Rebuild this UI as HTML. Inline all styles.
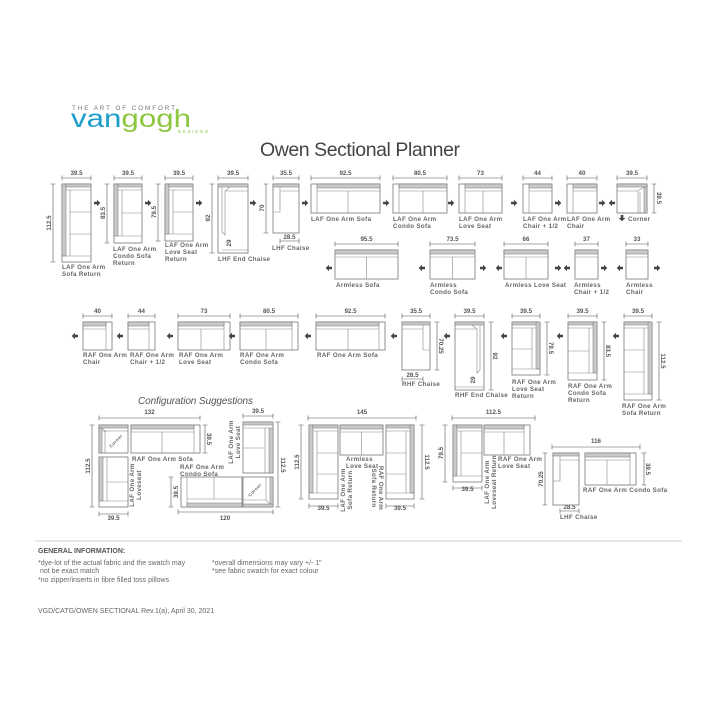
<!DOCTYPE html>
<html><head><meta charset="utf-8"><style>
html,body{margin:0;padding:0;background:#fff;}
svg{display:block;}
.o{fill:#fff;stroke:#777;stroke-width:.8}
.b{fill:#c9c9c9;stroke:#777;stroke-width:.5}
.l{stroke:#888;stroke-width:.6;fill:none}
.d{stroke:#555;stroke-width:.6;fill:none}
.t{font-family:"Liberation Sans",sans-serif;font-weight:bold;font-size:6.2px;fill:#666;letter-spacing:.35px}
.r{font-family:"Liberation Sans",sans-serif;font-weight:bold;font-size:6.2px;fill:#666;letter-spacing:.35px;text-anchor:middle}
.n{font-family:"Liberation Sans",sans-serif;font-weight:bold;font-size:6.2px;fill:#555;text-anchor:middle}
.f{font-family:"Liberation Sans",sans-serif;font-size:7px;fill:#666}
</style></head><body>
<svg width="720" height="720" viewBox="0 0 720 720" xmlns="http://www.w3.org/2000/svg">
<defs>
<path id="ar" d="M-3,-1.3h3v-2l3.3,3.3l-3.3,3.3v-2h-3z" fill="#444"/>
<path id="al" d="M3,-1.3h-3v-2l-3.3,3.3l3.3,3.3v-2h3z" fill="#444"/>
</defs>
<!-- Logo -->
<text x="72" y="110" textLength="103" style="font-family:'Liberation Sans',sans-serif;font-size:6.3px;fill:#777">THE ART OF COMFORT</text>
<text x="71" y="127" textLength="120" lengthAdjust="spacingAndGlyphs" style="font-family:'Liberation Sans',sans-serif;font-size:25px"><tspan fill="#1c9cc8">van</tspan><tspan fill="#8dc63f">gogh</tspan></text>
<text x="178" y="133" textLength="30" style="font-family:'Liberation Sans',sans-serif;font-size:4.5px;fill:#8dc63f">DESIGNS</text>
<text x="260" y="156" textLength="200" style="font-family:'Liberation Sans',sans-serif;font-size:19.5px;fill:#444">Owen Sectional Planner</text>

<!-- ROW 1 -->
<path class="d" d="M62,178h29M62,175.5v5M91,175.5v5 M114,178h28M114,175.5v5M142,175.5v5 M165,178h28M165,175.5v5M193,175.5v5 M218,178h30M218,175.5v5M248,175.5v5 M273,178h26M273,175.5v5M299,175.5v5 M311,178h69M311,175.5v5M380,175.5v5 M393,178h54M393,175.5v5M447,175.5v5 M459,178h43M459,175.5v5M502,175.5v5 M523,178h29M523,175.5v5M552,175.5v5 M567,178h30M567,175.5v5M597,175.5v5 M617,178h30M617,175.5v5M647,175.5v5"/>
<text class="n" x="76.5" y="175">39.5</text><text class="n" x="128" y="175">39.5</text><text class="n" x="179" y="175">39.5</text><text class="n" x="233" y="175">39.5</text><text class="n" x="286" y="175">35.5</text><text class="n" x="345.5" y="175">92.5</text><text class="n" x="420" y="175">80.5</text><text class="n" x="480.5" y="175">73</text><text class="n" x="537.5" y="175">44</text><text class="n" x="582" y="175">40</text><text class="n" x="632" y="175">39.5</text>
<path class="d" d="M53,184v78M50.5,184h5M50.5,262h5 M107,184v59M104.5,184h5M104.5,243h5 M158,184v57M155.5,184h5M155.5,241h5 M212,184v69M209.5,184h5M209.5,253h5 M266,184v49M263.5,184h5M263.5,233h5 M654,184v29M651.5,184h5M651.5,213h5"/>
<text class="n" transform="rotate(-90 49 223)" x="49" y="225">112.5</text>
<text class="n" transform="rotate(-90 103 213)" x="103" y="215">83.5</text>
<text class="n" transform="rotate(-90 154 212)" x="154" y="214">79.5</text>
<text class="n" transform="rotate(-90 208 218)" x="208" y="220">92</text>
<text class="n" transform="rotate(-90 262 208)" x="262" y="210">70</text>
<text class="n" transform="rotate(90 659 198)" x="659" y="200">39.5</text>
<rect class="o" x="62" y="184" width="29" height="78"/><rect class="b" x="62" y="184" width="4" height="72"/><rect class="b" x="66" y="184" width="25" height="3"/>
<path class="l" d="M66,190h25M70,190v66M62,256h29M70,212h21M70,234h21"/>
<rect class="o" x="114" y="184" width="28" height="59"/><rect class="b" x="114" y="184" width="4" height="52"/><rect class="b" x="118" y="184" width="24" height="3"/>
<path class="l" d="M118,190h24M122,190v46M114,236h28M122,213h20"/>
<rect class="o" x="165" y="184" width="28" height="57"/><rect class="b" x="165" y="184" width="4" height="50"/><rect class="b" x="169" y="184" width="24" height="3"/>
<path class="l" d="M169,190h24M173,190v44M165,234h28M173,212h20"/>
<rect class="o" x="218" y="184" width="30" height="69"/><rect class="b" x="218" y="184" width="30" height="3"/>
<path class="l" d="M222,187v45l3,3v-44l5,-4M225,191h23M222,232l3,3M222,250h26"/>
<text class="n" transform="rotate(-90 229 243)" x="229" y="245">29</text>
<rect class="o" x="273" y="184" width="26" height="49"/><rect class="b" x="273" y="184" width="26" height="3"/>
<path class="l" d="M280,187v25h-7M280,191h19"/>
<path class="d" d="M280,241h19M280,238.5v5M299,238.5v5"/><text class="n" x="289.5" y="239">28.5</text>
<rect class="o" x="311" y="184" width="69" height="29"/><rect class="b" x="317" y="184" width="63" height="4"/><path class="l" d="M317,184v29M317,191h63M348,191v22"/>
<rect class="o" x="393" y="184" width="54" height="29"/><rect class="b" x="399" y="184" width="48" height="4"/><path class="l" d="M399,184v29M399,191h48M423,191v22"/>
<rect class="o" x="459" y="184" width="43" height="29"/><rect class="b" x="465" y="184" width="37" height="4"/><path class="l" d="M465,184v29M465,191h37M483,191v22"/>
<rect class="o" x="523" y="184" width="29" height="29"/><rect class="b" x="529" y="184" width="23" height="4"/><path class="l" d="M529,184v29M529,191h23"/>
<rect class="o" x="567" y="184" width="30" height="29"/><rect class="b" x="573" y="184" width="24" height="4"/><path class="l" d="M573,184v29M573,191h24"/>
<rect class="o" x="617" y="184" width="30" height="29"/><rect class="b" x="617" y="184" width="30" height="3"/><rect class="b" x="644" y="187" width="3" height="26"/>
<path class="l" d="M617,191h21l6,-4M638,191v22M640,213v-21"/>
<use href="#ar" x="97" y="203"/><use href="#ar" x="148" y="203"/><use href="#ar" x="199" y="203"/><use href="#ar" x="253" y="203"/><use href="#ar" x="305" y="203"/><use href="#ar" x="386" y="203"/><use href="#ar" x="451" y="203"/><use href="#ar" x="514" y="203"/><use href="#ar" x="558" y="203"/><use href="#ar" x="602" y="203"/><use href="#al" x="612" y="203"/>
<path d="M620.7,215h2.6v3h2l-3.3,3.3l-3.3,-3.3h2z" fill="#444"/>
<text class="t" x="62" y="269">LAF One Arm</text><text class="t" x="62" y="276">Sofa Return</text>
<text class="t" x="113" y="251">LAF One Arm</text><text class="t" x="113" y="258">Condo Sofa</text><text class="t" x="113" y="265">Return</text>
<text class="t" x="165" y="247">LAF One Arm</text><text class="t" x="165" y="254">Love Seat</text><text class="t" x="165" y="261">Return</text>
<text class="t" x="218" y="261">LHF End Chaise</text>
<text class="t" x="272" y="250">LHF Chaise</text>
<text class="t" x="311" y="221">LAF One Arm Sofa</text>
<text class="t" x="393" y="221">LAF One Arm</text><text class="t" x="393" y="228">Condo Sofa</text>
<text class="t" x="459" y="221">LAF One Arm</text><text class="t" x="459" y="228">Love Seat</text>
<text class="t" x="523" y="221">LAF One Arm</text><text class="t" x="523" y="228">Chair + 1/2</text>
<text class="t" x="567" y="221">LAF One Arm</text><text class="t" x="567" y="228">Chair</text>
<text class="t" x="628" y="221">Corner</text>

<!-- ROW 2 armless -->
<path class="d" d="M335,244h63M335,241.5v5M398,241.5v5 M430,244h45M430,241.5v5M475,241.5v5 M504,244h44M504,241.5v5M548,241.5v5 M575,244h23M575,241.5v5M598,241.5v5 M626,244h22M626,241.5v5M648,241.5v5"/>
<text class="n" x="366.5" y="241">95.5</text><text class="n" x="452.5" y="241">73.5</text><text class="n" x="526" y="241">66</text><text class="n" x="586.5" y="241">37</text><text class="n" x="637" y="241">33</text>
<rect class="o" x="335" y="250" width="63" height="29"/><rect class="b" x="335" y="250" width="63" height="4"/><path class="l" d="M335,257h63M366.5,257v22"/>
<rect class="o" x="430" y="250" width="45" height="29"/><rect class="b" x="430" y="250" width="45" height="4"/><path class="l" d="M430,257h45M452.5,257v22"/>
<rect class="o" x="504" y="250" width="44" height="29"/><rect class="b" x="504" y="250" width="44" height="4"/><path class="l" d="M504,257h44M526,257v22"/>
<rect class="o" x="575" y="250" width="23" height="29"/><rect class="b" x="575" y="250" width="23" height="4"/><path class="l" d="M575,257h23"/>
<rect class="o" x="626" y="250" width="22" height="29"/><rect class="b" x="626" y="250" width="22" height="4"/><path class="l" d="M626,257h22"/>
<use href="#al" x="329" y="268"/><use href="#al" x="422" y="268"/><use href="#ar" x="483" y="268"/><use href="#al" x="499" y="268"/><use href="#ar" x="558" y="268"/><use href="#al" x="567" y="268"/><use href="#ar" x="604" y="268"/><use href="#al" x="620" y="268"/><use href="#ar" x="657" y="268"/>
<text class="t" x="336" y="287">Armless Sofa</text>
<text class="t" x="430" y="287">Armless</text><text class="t" x="430" y="294">Condo Sofa</text>
<text class="t" x="505" y="287">Armless Love Seat</text>
<text class="t" x="574" y="287">Armless</text><text class="t" x="574" y="294">Chair + 1/2</text>
<text class="t" x="626" y="287">Armless</text><text class="t" x="626" y="294">Chair</text>

<!-- ROW 3 RAF -->
<path class="d" d="M83,316h29M83,313.5v5M112,313.5v5 M128,316h27M128,313.5v5M155,313.5v5 M178,316h52M178,313.5v5M230,313.5v5 M240,316h58M240,313.5v5M298,313.5v5 M316,316h69M316,313.5v5M385,313.5v5 M402,316h28M402,313.5v5M430,313.5v5 M455,316h29M455,313.5v5M484,313.5v5 M512,316h28M512,313.5v5M540,313.5v5 M568,316h29M568,313.5v5M597,313.5v5 M624,316h28M624,313.5v5M652,313.5v5"/>
<text class="n" x="97.5" y="313">40</text><text class="n" x="141.5" y="313">44</text><text class="n" x="204" y="313">73</text><text class="n" x="269" y="313">80.5</text><text class="n" x="350.5" y="313">92.5</text><text class="n" x="416" y="313">35.5</text><text class="n" x="469.5" y="313">39.5</text><text class="n" x="526" y="313">39.5</text><text class="n" x="582.5" y="313">39.5</text><text class="n" x="638" y="313">39.5</text>
<rect class="o" x="83" y="322" width="29" height="28"/><rect class="b" x="83" y="322" width="23" height="4"/><path class="l" d="M106,322v28M83,329h23"/>
<rect class="o" x="128" y="322" width="27" height="28"/><rect class="b" x="128" y="322" width="21" height="4"/><path class="l" d="M149,322v28M128,329h21"/>
<rect class="o" x="178" y="322" width="52" height="28"/><rect class="b" x="178" y="322" width="46" height="4"/><path class="l" d="M224,322v28M178,329h46M201,329v21"/>
<rect class="o" x="240" y="322" width="58" height="28"/><rect class="b" x="240" y="322" width="52" height="4"/><path class="l" d="M292,322v28M240,329h52M266,329v21"/>
<rect class="o" x="316" y="322" width="69" height="28"/><rect class="b" x="316" y="322" width="63" height="4"/><path class="l" d="M379,322v28M316,329h63M348,329v21"/>
<rect class="o" x="402" y="322" width="28" height="48"/><rect class="b" x="402" y="322" width="28" height="3"/><path class="l" d="M423,325v25h7M402,329h21"/>
<path class="d" d="M402,379h21M402,376.5v5M423,376.5v5 M437,322v48M434.5,322h5M434.5,370h5"/><text class="n" x="412.5" y="377">28.5</text>
<text class="n" transform="rotate(90 441 346)" x="441" y="348">70.25</text>
<rect class="o" x="455" y="322" width="29" height="68"/><rect class="b" x="455" y="322" width="29" height="3"/>
<path class="l" d="M480,325v45l-3,3v-44l-5,-4M455,329h22M480,370l-3,3M455,387h29"/>
<path class="d" d="M491,322v68M488.5,322h5M488.5,390h5"/>
<text class="n" transform="rotate(90 495 356)" x="495" y="358">92</text>
<text class="n" transform="rotate(-90 473 380)" x="473" y="382">29</text>
<rect class="o" x="512" y="322" width="28" height="53"/><rect class="b" x="536" y="322" width="4" height="47"/><rect class="b" x="512" y="322" width="24" height="3"/><path class="l" d="M512,328h24M532,328v41M512,369h28M512,349h20"/>
<rect class="o" x="568" y="322" width="29" height="58"/><rect class="b" x="593" y="322" width="4" height="51"/><rect class="b" x="568" y="322" width="25" height="3"/><path class="l" d="M568,328h25M589,328v45M568,373h29M568,351h21"/>
<rect class="o" x="624" y="322" width="28" height="78"/><rect class="b" x="648" y="322" width="4" height="72"/><rect class="b" x="624" y="322" width="24" height="3"/><path class="l" d="M624,328h24M644,328v66M624,394h28M624,350h20M624,372h20"/>
<path class="d" d="M547,322v53M544.5,322h5M544.5,375h5 M604,322v58M601.5,322h5M601.5,380h5 M659,322v78M656.5,322h5M656.5,400h5"/>
<text class="n" transform="rotate(90 551 348)" x="551" y="350">79.5</text>
<text class="n" transform="rotate(90 608 351)" x="608" y="353">83.5</text>
<text class="n" transform="rotate(90 663 361)" x="663" y="363">112.5</text>
<use href="#al" x="75" y="336"/><use href="#al" x="120" y="336"/><use href="#al" x="170" y="336"/><use href="#al" x="232" y="336"/><use href="#al" x="308" y="336"/><use href="#al" x="394" y="336"/><use href="#al" x="447" y="336"/><use href="#al" x="504" y="336"/><use href="#al" x="560" y="336"/><use href="#al" x="616" y="336"/>
<text class="t" x="83" y="357">RAF One Arm</text><text class="t" x="83" y="364">Chair</text>
<text class="t" x="130" y="357">RAF One Arm</text><text class="t" x="130" y="364">Chair + 1/2</text>
<text class="t" x="179" y="357">RAF One Arm</text><text class="t" x="179" y="364">Love Seat</text>
<text class="t" x="240" y="357">RAF One Arm</text><text class="t" x="240" y="364">Condo Sofa</text>
<text class="t" x="317" y="357">RAF One Arm Sofa</text>
<text class="t" x="402" y="386">RHF Chaise</text>
<text class="t" x="455" y="397">RHF End Chaise</text>
<text class="t" x="512" y="384">RAF One Arm</text><text class="t" x="512" y="391">Love Seat</text><text class="t" x="512" y="398">Return</text>
<text class="t" x="568" y="388">RAF One Arm</text><text class="t" x="568" y="395">Condo Sofa</text><text class="t" x="568" y="402">Return</text>
<text class="t" x="622" y="408">RAF One Arm</text><text class="t" x="622" y="415">Sofa Return</text>

<text x="138" y="404" textLength="115" style="font-family:'Liberation Sans',sans-serif;font-style:italic;font-size:10px;fill:#555">Configuration Suggestions</text>

<!-- CONFIG 1 -->
<path class="d" d="M99,418h101M99,415.5v5M200,415.5v5 M205,425v28M202.5,425h5M202.5,453h5 M92,425v82M89.5,425h5M89.5,507h5 M99,514h29M99,511.5v5M128,511.5v5 M243,416h30M243,413.5v5M273,413.5v5 M278,422v85M275.5,422h5M275.5,507h5 M178,512h95M178,509.5v5M273,509.5v5 M171,477v30M168.5,477h5M168.5,507h5"/>
<text class="n" x="149.5" y="414">132</text><text class="n" x="113.5" y="520">39.5</text><text class="n" x="258" y="413">39.5</text><text class="n" x="225" y="520">120</text>
<text class="n" transform="rotate(90 209 439)" x="209" y="441">39.5</text>
<text class="n" transform="rotate(-90 88 466)" x="88" y="468">112.5</text>
<text class="n" transform="rotate(90 283 465)" x="283" y="467">112.5</text>
<text class="n" transform="rotate(-90 176 492)" x="176" y="494">39.5</text>
<rect class="o" x="99" y="425" width="29" height="28"/><rect class="b" x="99" y="425" width="29" height="3"/><rect class="b" x="99" y="428" width="3" height="25"/><path class="l" d="M102,431h26M105,431v22M102,428l4,4"/>
<text class="r" style="font-size:4.5px" transform="translate(117,442) rotate(-45)">Corner</text>
<rect class="o" x="131" y="425" width="69" height="28"/><rect class="b" x="131" y="425" width="63" height="4"/><path class="l" d="M194,425v28M131,432h63M162,432v21"/>
<rect class="o" x="99" y="457" width="29" height="50"/><rect class="b" x="99" y="457" width="4" height="44"/><path class="l" d="M107,457v44M99,501h29M107,482h21"/>
<rect class="o" x="181" y="477" width="61" height="30"/><rect class="b" x="187" y="503" width="55" height="4"/><path class="l" d="M187,477v30M187,499h55M214,477v22"/>
<rect class="o" x="243" y="477" width="30" height="30"/><rect class="b" x="243" y="504" width="30" height="3"/><rect class="b" x="270" y="477" width="3" height="27"/><path class="l" d="M243,500h23l4,4M266,477v23"/>
<text class="r" style="font-size:4.5px" transform="translate(256,491) rotate(-45)">Corner</text>
<rect class="o" x="243" y="422" width="30" height="51"/><rect class="b" x="269" y="428" width="4" height="45"/><rect class="b" x="243" y="422" width="30" height="3"/><path class="l" d="M243,428h26M265,428v45M243,448h22"/>
<text class="t" x="132" y="461">RAF One Arm Sofa</text>
<text class="t" x="180" y="469">RAF One Arm</text><text class="t" x="180" y="476">Condo Sofa</text>
<text class="r" transform="translate(134,485) rotate(-90)">LAF One Arm</text>
<text class="r" transform="translate(141,485) rotate(-90)">Loveseat</text>
<text class="r" transform="translate(233,442) rotate(-90)">LAF One Arm</text>
<text class="r" transform="translate(240,442) rotate(-90)">Love Seat</text>

<!-- CONFIG 2 -->
<path class="d" d="M308,418h108M308,415.5v5M416,415.5v5 M301,425v74M298.5,425h5M298.5,499h5 M422,425v74M419.5,425h5M419.5,499h5 M309,506h29M309,503.5v5M338,503.5v5 M386,506h28M386,503.5v5M414,503.5v5"/>
<text class="n" x="362" y="414">145</text><text class="n" x="323.5" y="510">39.5</text><text class="n" x="400" y="510">39.5</text>
<text class="n" transform="rotate(-90 297 462)" x="297" y="464">112.5</text>
<text class="n" transform="rotate(90 427 462)" x="427" y="464">112.5</text>
<rect class="o" x="309" y="425" width="29" height="74"/><rect class="b" x="309" y="425" width="4" height="68"/><rect class="b" x="313" y="425" width="25" height="3"/><path class="l" d="M313,431h25M317,431v62M309,493h29M317,453h21M317,474h21"/>
<rect class="o" x="340" y="425" width="43" height="30"/><rect class="b" x="340" y="425" width="43" height="4"/><path class="l" d="M340,432h43M361.5,432v23"/>
<rect class="o" x="386" y="425" width="28" height="74"/><rect class="b" x="410" y="425" width="4" height="68"/><rect class="b" x="386" y="425" width="24" height="3"/><path class="l" d="M386,431h24M406,431v62M386,493h28M386,453h20M386,474h20"/>
<text class="t" x="346" y="461">Armless</text><text class="t" x="346" y="468">Love Seat</text>
<text class="r" transform="translate(345,490) rotate(-90)">LAF One Arm</text>
<text class="r" transform="translate(352,490) rotate(-90)">Sofa Return</text>
<text class="r" transform="translate(379,488) rotate(90)">RAF One Arm</text>
<text class="r" transform="translate(372,488) rotate(90)">Sofa Return</text>

<!-- CONFIG 3 -->
<path class="d" d="M452,418h83M452,415.5v5M535,415.5v5 M445,425v57M442.5,425h5M442.5,482h5 M453,488h29M453,485.5v5M482,485.5v5"/>
<text class="n" x="493.5" y="414">112.5</text><text class="n" x="467.5" y="491">39.5</text>
<text class="n" transform="rotate(-90 441 453)" x="441" y="455">79.5</text>
<rect class="o" x="453" y="425" width="29" height="57"/><rect class="b" x="453" y="425" width="4" height="51"/><rect class="b" x="457" y="425" width="25" height="3"/><path class="l" d="M457,431h25M461,431v45M453,476h29M461,453h21"/>
<rect class="o" x="484" y="425" width="46" height="30"/><rect class="b" x="484" y="425" width="40" height="4"/><path class="l" d="M524,425v30M484,432h40M504,432v23"/>
<text class="t" x="498" y="461">RAF One Arm</text><text class="t" x="498" y="468">Love Seat</text>
<text class="r" transform="translate(489,482) rotate(-90)">LAF One Arm</text>
<text class="r" transform="translate(496,482) rotate(-90)">Loveseat Return</text>

<!-- CONFIG 4 -->
<path class="d" d="M552,447h88M552,444.5v5M640,444.5v5 M545,453v52M542.5,453h5M542.5,505h5 M644,453v32M641.5,453h5M641.5,485h5 M560,511h19M560,508.5v5M579,508.5v5"/>
<text class="n" x="596" y="443">116</text><text class="n" x="569.5" y="509">28.5</text>
<text class="n" transform="rotate(-90 541 479)" x="541" y="481">70.25</text>
<text class="n" transform="rotate(90 648 469)" x="648" y="471">39.5</text>
<rect class="o" x="553" y="453" width="26" height="52"/><rect class="b" x="553" y="453" width="26" height="3"/><path class="l" d="M560,456v25h-7M560,460h19"/>
<rect class="o" x="585" y="453" width="51" height="32"/><rect class="b" x="585" y="453" width="45" height="4"/><path class="l" d="M630,453v32M585,460h45M607,460v25"/>
<text class="t" x="583" y="492">RAF One Arm Condo Sofa</text>
<text class="t" x="560" y="519">LHF Chaise</text>

<!-- FOOTER -->
<line x1="35" y1="541" x2="682" y2="541" stroke="#bbb" stroke-width=".8"/>
<text x="38" y="553" style="font-family:'Liberation Sans',sans-serif;font-weight:bold;font-size:7px;fill:#555">GENERAL INFORMATION:</text>
<text class="f" x="38" y="565">*dye-lot of the actual fabric and the swatch may</text>
<text class="f" x="40" y="573">not be exact match</text>
<text class="f" x="38" y="582">*no zipper/inserts in fibre filled toss pillows</text>
<text class="f" x="212" y="565">*overall dimensions may vary +/- 1"</text>
<text class="f" x="212" y="573">*see fabric swatch for exact colour</text>
<text class="f" x="38" y="613">VGD/CATG/OWEN SECTIONAL Rev.1(a), April 30, 2021</text>
</svg>
</body></html>
